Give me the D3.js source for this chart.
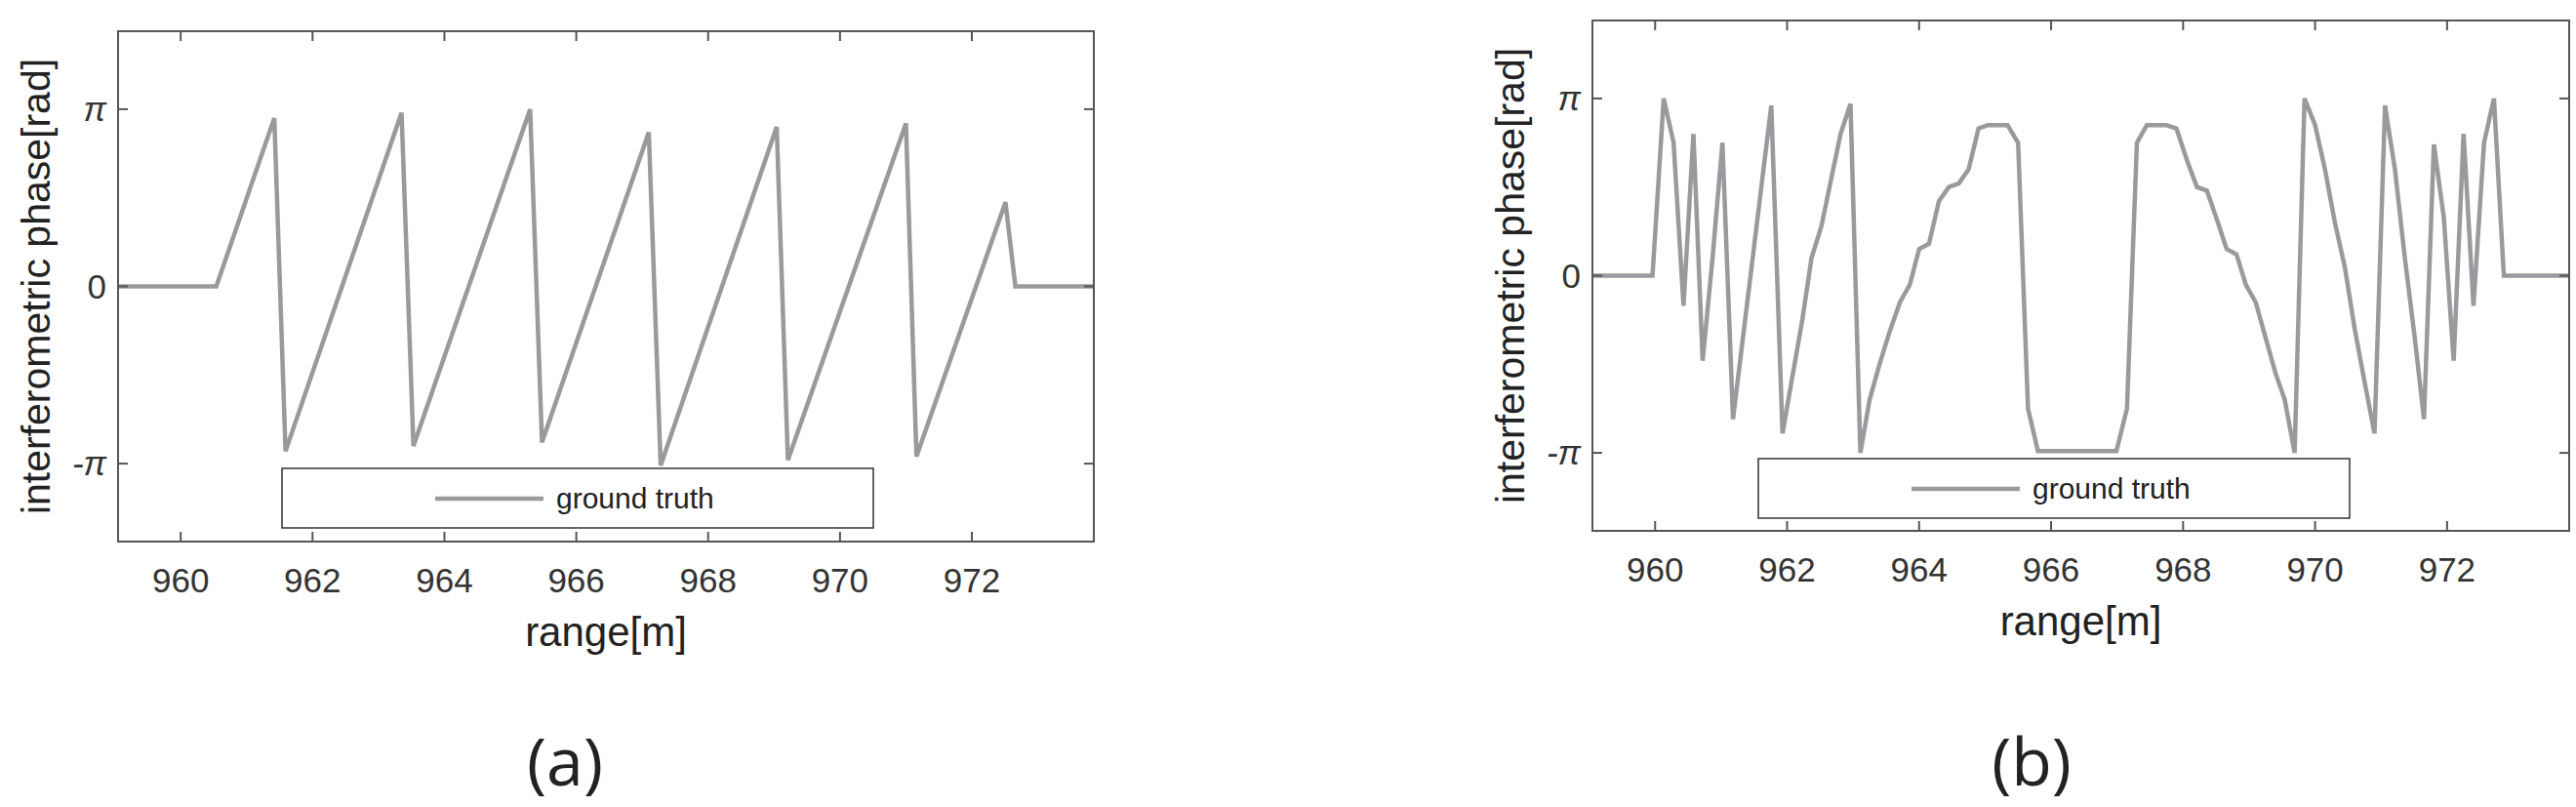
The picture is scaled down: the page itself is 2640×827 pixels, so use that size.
<!DOCTYPE html>
<html><head><meta charset="utf-8">
<script src="https://cdn.jsdelivr.net/npm/d3@7"></script>
<style>body{margin:0;background:#fff}</style>
</head><body><svg width="2640" height="827"></svg>
<script>
var PI = Math.PI;
// panel (a): range [m], phase in units of pi
var rangeA = [959.05, 960.54, 961.42, 961.59, 963.35, 963.53, 965.30, 965.48, 967.10, 967.28, 969.04, 969.21, 971.00, 971.16, 972.51, 972.66, 973.85];
var phaseA = [0, 0, 0.95, -0.93, 0.98, -0.90, 1.0, -0.88, 0.87, -1.01, 0.90, -0.98, 0.92, -0.96, 0.475, 0, 0];
// panel (b)
var rangeB = [959.05, 959.96, 960.13, 960.28, 960.43, 960.58, 960.72, 960.87, 961.02, 961.18, 961.76, 961.93, 962.23, 962.37, 962.52, 962.67, 962.81, 962.96, 963.11, 963.25, 963.40, 963.55, 963.71, 963.86, 964.00, 964.15, 964.30, 964.45, 964.60, 964.75, 964.90, 965.04, 965.34, 965.50, 965.65, 965.80, 966.99, 967.15, 967.30, 967.45, 967.75, 967.90, 968.06, 968.21, 968.36, 968.51, 968.66, 968.81, 968.95, 969.10, 969.25, 969.40, 969.54, 969.69, 969.84, 970.00, 970.15, 970.30, 970.45, 970.60, 970.75, 970.90, 971.06, 971.21, 971.36, 971.51, 971.65, 971.80, 971.95, 972.10, 972.25, 972.40, 972.56, 972.71, 972.86, 973.85];
var phaseB = [0, 0, 1.0, 0.75, -0.17, 0.8, -0.48, 0.1, 0.75, -0.81, 0.96, -0.89, -0.25, 0.1, 0.28, 0.55, 0.8, 0.97, -1.0, -0.7, -0.5, -0.32, -0.15, -0.05, 0.15, 0.18, 0.42, 0.5, 0.52, 0.6, 0.83, 0.85, 0.85, 0.75, -0.75, -0.99, -0.99, -0.75, 0.75, 0.85, 0.85, 0.83, 0.65, 0.5, 0.48, 0.32, 0.15, 0.12, -0.05, -0.15, -0.35, -0.55, -0.7, -1.0, 1.0, 0.85, 0.6, 0.3, 0.05, -0.3, -0.6, -0.89, 0.96, 0.6, 0.1, -0.35, -0.81, 0.74, 0.33, -0.48, 0.8, -0.17, 0.75, 1.0, 0, 0];
var xTicks = [960, 962, 964, 966, 968, 970, 972];
var yTicks = [-PI, 0, PI];
var yTickLabels = ['-\u03c0', '0', '\u03c0'];

var svg = d3.select('svg');
var font = '"Liberation Sans Narrow", "Liberation Sans", sans-serif';
var lineColor = '#9a9a9e', axisColor = '#555';

function panel(cfg) {
	var x = d3.scaleLinear().domain([959.05, 973.85]).range([cfg.L, cfg.R]);
	var y = d3.scaleLinear().domain([-1.44 * PI, 1.44 * PI]).range([cfg.B, cfg.T]);
	var g = svg.append('g');

	var data = cfg.xs.map(function(v, i) { return [v, cfg.ys[i] * PI]; });
	g.append('path')
		.attr('d', d3.line().x(function(d) { return x(d[0]); }).y(function(d) { return y(d[1]); })(data))
		.attr('fill', 'none').attr('stroke', lineColor).attr('stroke-width', 4.5)
		.attr('stroke-linejoin', 'miter');

	g.append('rect').attr('x', cfg.L).attr('y', cfg.T)
		.attr('width', cfg.R - cfg.L).attr('height', cfg.B - cfg.T)
		.attr('fill', 'none').attr('stroke', axisColor).attr('stroke-width', 2);

	xTicks.forEach(function(t) {
		g.append('line').attr('x1', x(t)).attr('x2', x(t)).attr('y1', cfg.B).attr('y2', cfg.B - 10)
			.attr('stroke', axisColor).attr('stroke-width', 2);
		g.append('line').attr('x1', x(t)).attr('x2', x(t)).attr('y1', cfg.T).attr('y2', cfg.T + 10)
			.attr('stroke', axisColor).attr('stroke-width', 2);
		g.append('text').attr('x', x(t)).attr('y', cfg.B + 52).attr('text-anchor', 'middle')
			.style('font-family', font).style('font-size', '35px').attr('fill', '#333').text(t);
	});
	yTicks.forEach(function(t, i) {
		g.append('line').attr('x1', cfg.L).attr('x2', cfg.L + 10).attr('y1', y(t)).attr('y2', y(t))
			.attr('stroke', axisColor).attr('stroke-width', 2);
		g.append('line').attr('x1', cfg.R).attr('x2', cfg.R - 10).attr('y1', y(t)).attr('y2', y(t))
			.attr('stroke', axisColor).attr('stroke-width', 2);
		g.append('text').attr('x', cfg.L - 12).attr('y', y(t) + 12).attr('text-anchor', 'end')
			.style('font-family', font).style('font-size', '35px').style('font-style', i === 1 ? 'normal' : 'italic')
			.attr('fill', '#333').text(yTickLabels[i]);
	});

	g.append('text').attr('x', (cfg.L + cfg.R) / 2).attr('y', cfg.B + 107).attr('text-anchor', 'middle')
		.style('font-family', font).style('font-size', '42px').attr('fill', '#222').text('range[m]');
	g.append('text').attr('transform', 'translate(' + (cfg.L - 70) + ',' + ((cfg.T + cfg.B) / 2) + ') rotate(-90)')
		.attr('text-anchor', 'middle').style('font-family', '"Liberation Sans", sans-serif').style('font-size', '41px')
		.attr('fill', '#222').text('interferometric phase[rad]');

	// legend
	g.append('rect').attr('x', cfg.lx).attr('y', cfg.ly).attr('width', 606).attr('height', 61)
		.attr('fill', '#fff').attr('stroke', '#333').attr('stroke-width', 1.5);
	g.append('line').attr('x1', cfg.lx + 157).attr('x2', cfg.lx + 268)
		.attr('y1', cfg.ly + 31).attr('y2', cfg.ly + 31).attr('stroke', lineColor).attr('stroke-width', 4.5);
	g.append('text').attr('x', cfg.lx + 281).attr('y', cfg.ly + 41)
		.style('font-family', font).style('font-size', '30px').attr('fill', '#222').text('ground truth');

	g.append('text').attr('x', cfg.cap).attr('y', 805).attr('text-anchor', 'middle')
		.style('font-family', '"Open Sans", sans-serif').style('font-size', '68px')
		.attr('fill', '#222').text(cfg.label);
}

panel({L: 121, R: 1121, T: 32, B: 555, xs: rangeA, ys: phaseA, lx: 289, ly: 480, cap: 579, label: '(a)'});
panel({L: 1632, R: 2633, T: 21, B: 544, xs: rangeB, ys: phaseB, lx: 1802, ly: 470, cap: 2082, label: '(b)'});
</script>
</body></html>
